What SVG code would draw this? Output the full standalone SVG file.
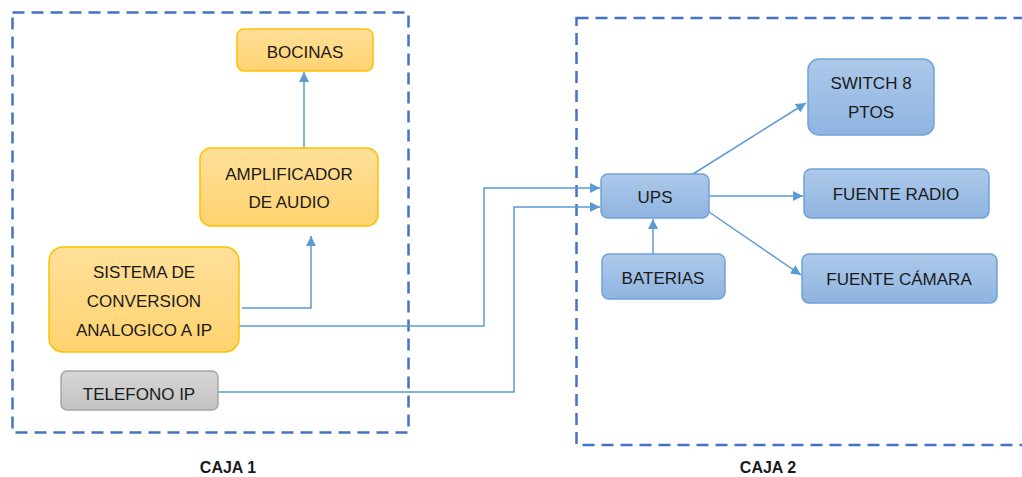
<svg xmlns="http://www.w3.org/2000/svg" width="1022" height="477" viewBox="0 0 1022 477">
<style>
.t{font-family:"Liberation Sans",Arial,sans-serif;font-size:17px;fill:#1a1a1a;text-anchor:middle}
.lbl{font-family:"Liberation Sans",Arial,sans-serif;font-size:16px;font-weight:bold;fill:#1a1a1a;text-anchor:middle}
.o{fill:url(#gO);stroke:#ffc000;stroke-width:1.5}
.b{fill:url(#gB);stroke:#6fa3d8;stroke-width:1.5}
.g{fill:url(#gG);stroke:#a6a6a6;stroke-width:1.5}
.box{fill:none;stroke:#4472c4;stroke-width:2.5;stroke-dasharray:12 7}
.c{fill:none;stroke:#5b9bd5;stroke-width:1.5;marker-end:url(#ah)}
</style>
<defs>
<linearGradient id="gO" x1="0" y1="0" x2="0" y2="1"><stop offset="0" stop-color="#ffdf9a"/><stop offset="1" stop-color="#ffd36f"/></linearGradient>
<linearGradient id="gB" x1="0" y1="0" x2="0" y2="1"><stop offset="0" stop-color="#adc9ea"/><stop offset="1" stop-color="#8fb4e0"/></linearGradient>
<linearGradient id="gG" x1="0" y1="0" x2="0" y2="1"><stop offset="0" stop-color="#d6d6d6"/><stop offset="1" stop-color="#c2c2c2"/></linearGradient>
<marker id="ah" viewBox="0 0 10 10" refX="10" refY="5" markerWidth="10" markerHeight="10" markerUnits="userSpaceOnUse" orient="auto"><path d="M0,0 L10,5 L0,10 z" fill="#5b9bd5"/></marker>
</defs>
<rect width="1022" height="477" fill="#ffffff"/>
<g id="caja1"><rect class="box" x="12.5" y="12.5" width="396" height="420"/><text class="lbl" x="228" y="473">CAJA 1</text></g>
<g id="caja2"><rect class="box" x="576.5" y="18" width="470" height="427"/><text class="lbl" x="768" y="473">CAJA 2</text></g>
<g id="connectors">
<path class="c" d="M304 148 V72"/>
<path class="c" d="M242 308 H311 V236"/>
<path class="c" d="M239 326 H484 V188 H600"/>
<path class="c" d="M218 392 H514 V207 H600"/>
<path class="c" d="M693 174 L806 103"/>
<path class="c" d="M709 196 H803"/>
<path class="c" d="M709 212 L801 275"/>
<path class="c" d="M653 254 V219"/>
</g>
<g id="bocinas"><rect class="o" x="237" y="29" width="136" height="42" rx="7"/><text class="t" x="305" y="58">BOCINAS</text></g>
<g id="amplificador"><rect class="o" x="200" y="148" width="178" height="78" rx="11"/><text class="t" x="289" y="180">AMPLIFICADOR</text><text class="t" x="289" y="208">DE AUDIO</text></g>
<g id="sistema"><rect class="o" x="49" y="247" width="190" height="105" rx="14"/><text class="t" x="144" y="278">SISTEMA DE</text><text class="t" x="144" y="307">CONVERSION</text><text class="t" x="144" y="336">ANALOGICO A IP</text></g>
<g id="telefono"><rect class="g" x="61" y="371" width="157" height="39" rx="6"/><text class="t" x="139" y="400">TELEFONO IP</text></g>
<g id="ups"><rect class="b" x="601" y="174" width="108" height="44" rx="7"/><text class="t" x="655" y="203">UPS</text></g>
<g id="baterias"><rect class="b" x="602" y="254" width="123" height="45" rx="7"/><text class="t" x="663" y="284">BATERIAS</text></g>
<g id="switch"><rect class="b" x="808" y="59" width="126" height="76" rx="11"/><text class="t" x="871" y="89">SWITCH 8</text><text class="t" x="871" y="118">PTOS</text></g>
<g id="fuente-radio"><rect class="b" x="804" y="169" width="185" height="49" rx="7"/><text class="t" x="896" y="200">FUENTE RADIO</text></g>
<g id="fuente-camara"><rect class="b" x="802" y="254" width="195" height="49" rx="7"/><text class="t" x="899" y="285">FUENTE CÁMARA</text></g>
</svg>
